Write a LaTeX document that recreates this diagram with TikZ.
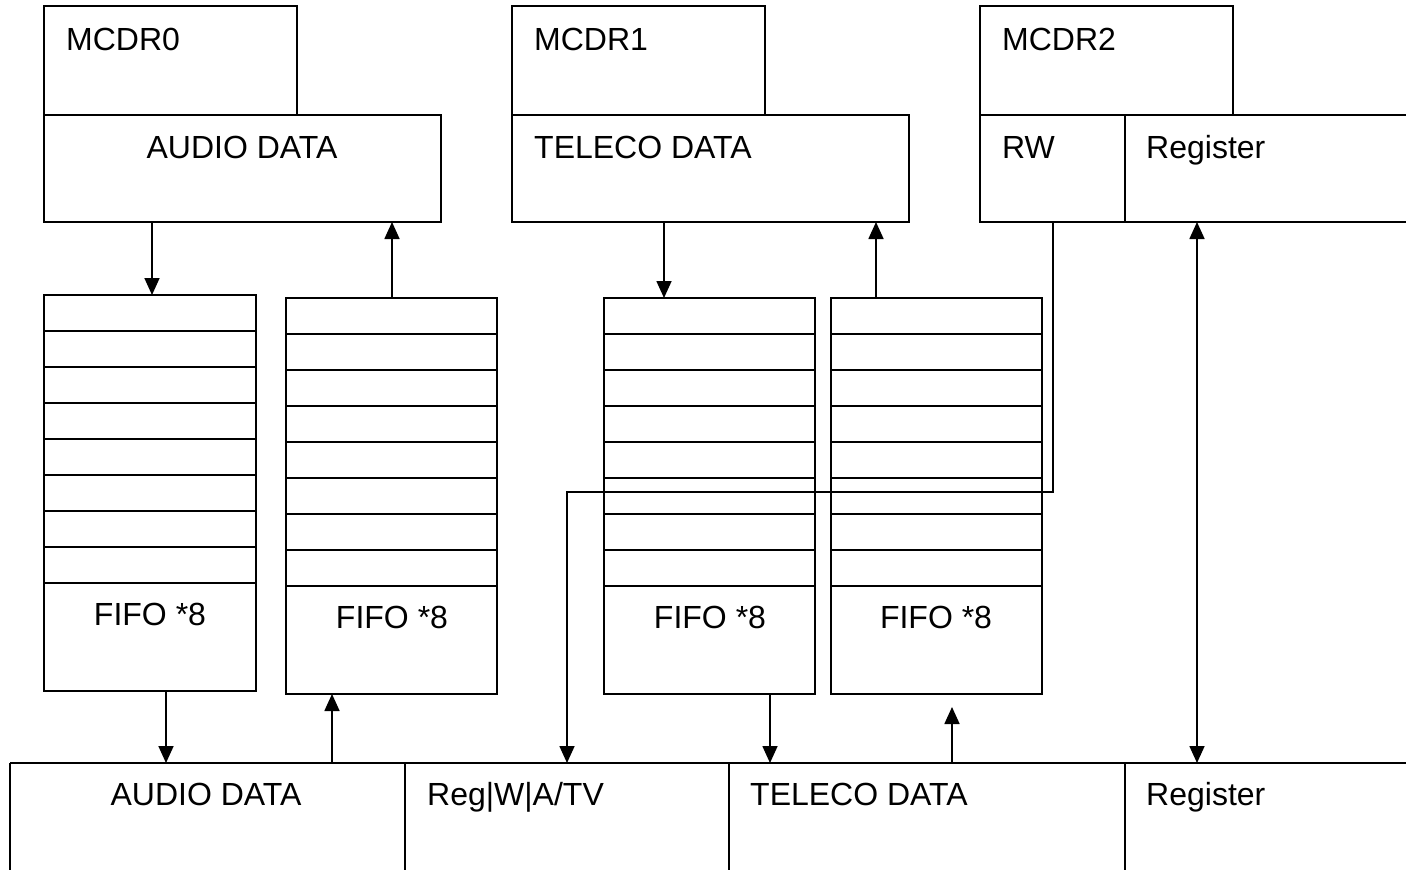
\documentclass[tikz,border=0pt]{standalone}
\usepackage{fontspec}
\setmainfont{Liberation Sans}
\usetikzlibrary{arrows.meta,calc}
\begin{document}
\begin{tikzpicture}[x=1pt,y=-1pt,
  box/.style={draw, line width=2pt, inner sep=0pt, outer sep=0pt, anchor=north west},
  lbl/.style={font=\fontsize{32}{38}\selectfont, inner sep=0pt},
  wire/.style={line width=2pt},
  arr/.style={line width=1.7pt, -{Triangle[width=15pt,length=17pt]}},
  darr/.style={line width=1.7pt, {Triangle[width=15pt,length=17pt]}-{Triangle[width=15pt,length=17pt]}}]
\useasboundingbox (0,0) rectangle (1406,870);
\fill[white] (0,0) rectangle (1406,870);

% top registers
\node[box, minimum width=253pt, minimum height=109pt] (mcdr0) at (44,6) {};
\node[box, minimum width=397pt, minimum height=107pt] (audio) at (44,115) {};
\node[box, minimum width=253pt, minimum height=109pt] (mcdr1) at (512,6) {};
\node[box, minimum width=397pt, minimum height=107pt] (teleco) at (512,115) {};
\node[box, minimum width=253pt, minimum height=109pt] (mcdr2) at (980,6) {};
\node[box, minimum width=145pt, minimum height=107pt] (rw) at (980,115) {};
\coordinate (regtl) at (1125,115);
\coordinate (regbl) at (1125,222);
\draw[wire] (1406,115) -- (regtl) -- (regbl) -- (1406,222);

\node[lbl, anchor=base west] (t0) at (66,50) {MCDR0};
\node[lbl, anchor=base] (t1) at (242,158) {AUDIO DATA};
\node[lbl, anchor=base west] (t2) at (534,50) {MCDR1};
\node[lbl, anchor=base west] (t3) at (534,158) {TELECO DATA};
\node[lbl, anchor=base west] (t4) at (1002,50) {MCDR2};
\node[lbl, anchor=base west] (t5) at (1002,158) {RW};
\node[lbl, anchor=base west] (t6) at (1146,158) {Register};

% FIFOs
\node[box, minimum width=212pt, minimum height=396pt] (f1) at (44,295) {};
\node[box, minimum width=211pt, minimum height=396pt] (f2) at (286,298) {};
\node[box, minimum width=211pt, minimum height=396pt] (f3) at (604,298) {};
\node[box, minimum width=211pt, minimum height=396pt] (f4) at (831,298) {};
\foreach \f in {f1,f2,f3,f4}{
  \foreach \k in {1,...,8}{
    \draw[wire] ($(\f.north west)+(0,36*\k)$) -- ($(\f.north east)+(0,36*\k)$);
  }
}
\node[lbl, anchor=base] (ff1) at (150,625) {FIFO *8};
\node[lbl, anchor=base] (ff2) at (392,628) {FIFO *8};
\node[lbl, anchor=base] (ff3) at (710,628) {FIFO *8};
\node[lbl, anchor=base] (ff4) at (936,628) {FIFO *8};

% bottom bus
\coordinate (bA) at (10,763);
\coordinate (bB) at (405,763);
\coordinate (bC) at (729,763);
\coordinate (bD) at (1125,763);
\draw[wire] (bA) -- (1406,763);
\foreach \c in {bA,bB,bC,bD}{\draw[wire] (\c) -- ++(0,110);}
\node[lbl, anchor=base] (u1) at (206,805) {AUDIO DATA};
\node[lbl, anchor=base west] (u2) at (427,805) {Reg|W|A/TV};
\node[lbl, anchor=base west] (u3) at (750,805) {TELECO DATA};
\node[lbl, anchor=base west] (u4) at (1146,805) {Register};

% connectors
\coordinate (p1) at (152,0);
\coordinate (p2) at (392,0);
\coordinate (p3) at (664,0);
\coordinate (p4) at (876,0);
\draw[arr] (audio.south -| p1) -- (f1.north -| p1);
\draw[arr] (f2.north -| p2) -- (audio.south -| p2);
\draw[arr] (teleco.south -| p3) -- (f3.north -| p3);
\draw[arr] (f4.north -| p4) -- (teleco.south -| p4);

\coordinate (q1) at (166,763);
\coordinate (q2) at (332,763);
\coordinate (q3) at (770,763);
\coordinate (q4) at (952,763);
\coordinate (q4t) at (952,707);
\draw[arr] (f1.south -| q1) -- (q1);
\draw[arr] (q2) -- (f2.south -| q2);
\draw[arr] (f3.south -| q3) -- (q3);
\draw[arr] (q4) -- (q4t);

\coordinate (rwd) at (1053,492);
\coordinate (rwb) at (567,763);
\draw[arr] (rw.south -| rwd) -- (rwd) -| (rwb);

\coordinate (rg) at (1197,763);
\draw[darr] (regbl -| rg) -- (rg);
\end{tikzpicture}
\end{document}
